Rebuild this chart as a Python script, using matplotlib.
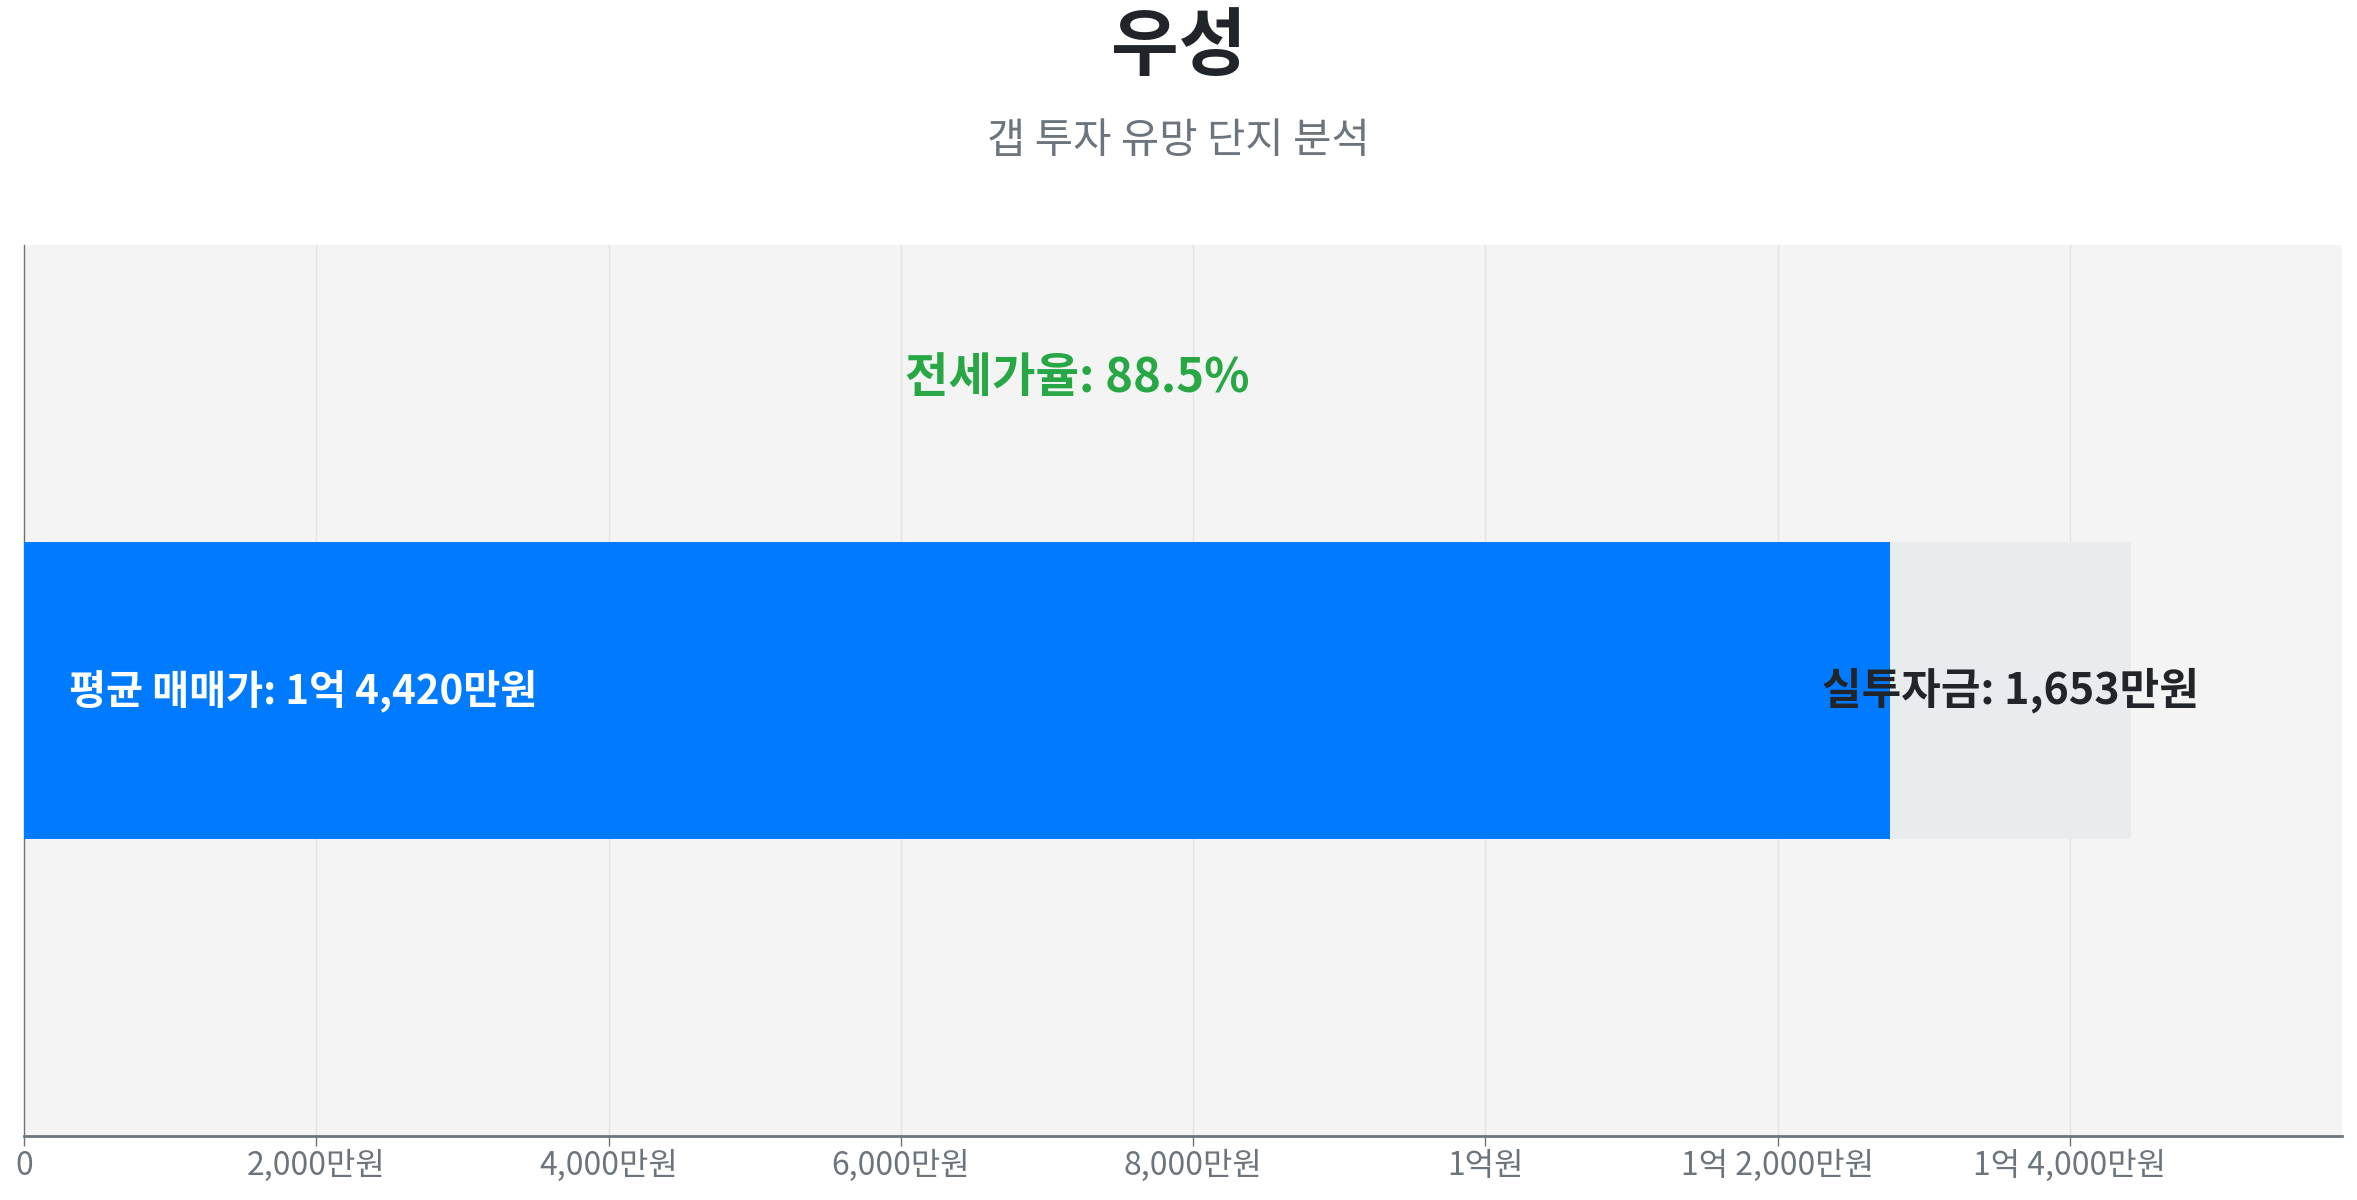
import matplotlib
matplotlib.use("Agg")
import matplotlib.pyplot as plt
from matplotlib.ticker import FuncFormatter

plt.rcParams["font.family"] = ["Noto Sans CJK KR", "DejaVu Sans"]

# data (만원)
complex_name = "우성"
subtitle = "갭 투자 유망 단지 분석"
avg_price = 14420
jeonse_ratio = 88.5
invest_amount = 1653
jeonse_price = avg_price - invest_amount
x_ticks = [0, 2000, 4000, 6000, 8000, 10000, 12000, 14000]

BLUE = "#007bff"
GRAY_BAR = "#e9ecef"
BG = "#f4f4f4"
GREEN = "#28a745"
DARK = "#212529"
MUTED = "#6c757d"


def won_label(v, pos=None):
    v = int(round(v))
    if v == 0:
        return "0"
    eok, man = divmod(v, 10000)
    if eok and man:
        return f"{eok}억 {man:,}만원"
    if eok:
        return f"{eok}억원"
    return f"{man:,}만원"


fig = plt.figure(figsize=(23.57, 12), dpi=100)
fig.set_facecolor("white")
ax = fig.add_axes([0.0102, 0.0533, 0.9834, 0.7427])
ax.set_facecolor(BG)

ax.barh([0], [avg_price], height=1.0, color=GRAY_BAR, zorder=2)
ax.barh([0], [jeonse_price], height=1.0, color=BLUE, zorder=3)

ax.set_xlim(0, avg_price * 1.1)
ax.set_ylim(-1.5, 1.5)
ax.set_yticks([])
ax.set_xticks(x_ticks)
ax.xaxis.set_major_formatter(FuncFormatter(won_label))
ax.tick_params(axis="x", colors=MUTED, labelsize=23, length=7, width=1, pad=3)
ax.grid(axis="x", color="#e3e3e3", linewidth=1, zorder=0)
ax.set_axisbelow(True)
for side in ("top", "right"):
    ax.spines[side].set_visible(False)
ax.spines["left"].set_color(MUTED)
ax.spines["left"].set_linewidth(1)
ax.spines["bottom"].set_color(MUTED)
ax.spines["bottom"].set_linewidth(2)

ax.text(avg_price / 2, 1.05, f"전세가율: {jeonse_ratio}%", color=GREEN,
        fontsize=34, fontweight="bold", ha="center", va="center", zorder=5)
ax.annotate(f"평균 매매가: {won_label(avg_price)}", xy=(0, 0), xytext=(45, 0),
            textcoords="offset pixels", color="white", fontsize=29,
            fontweight="bold", ha="left", va="center", zorder=5)
ax.text(jeonse_price + invest_amount / 2, 0, f"실투자금: {invest_amount:,}만원",
        color=DARK, fontsize=31, fontweight="bold", ha="center", va="center",
        zorder=5)

fig.text(0.5, 0.96, complex_name, color=DARK, fontsize=53, fontweight="bold",
         ha="center", va="center")
fig.text(0.5, 0.882, subtitle, color=MUTED, fontsize=30, ha="center",
         va="center")

fig.savefig("out.png", dpi=100, facecolor="white")
plt.close(fig)
